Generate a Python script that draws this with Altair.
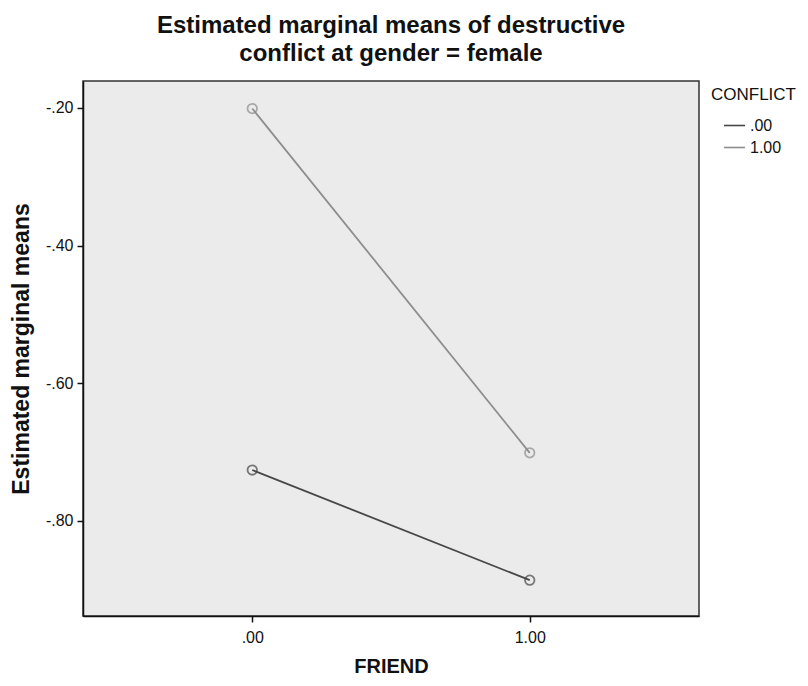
import altair as alt
import pandas as pd

# Data
friend = [".00", "1.00"]
conflict_levels = [".00", "1.00"]
means_conflict0 = [-0.726, -0.886]
means_conflict1 = [-0.201, -0.701]
y_ticks = [-0.2, -0.4, -0.6, -0.8]

rows = []
for f, v in zip(friend, means_conflict0):
    rows.append({"FRIEND": f, "CONFLICT": conflict_levels[0], "mean": v})
for f, v in zip(friend, means_conflict1):
    rows.append({"FRIEND": f, "CONFLICT": conflict_levels[1], "mean": v})
df = pd.DataFrame(rows)

FONT = "Liberation Sans"

color_scale = alt.Scale(domain=conflict_levels, range=["#474747", "#8e8e8e"])

x_enc = alt.X(
    "FRIEND:N",
    sort=friend,
    scale=alt.Scale(type="point", padding=0.61),
    axis=alt.Axis(title="FRIEND", labelAngle=0, labelPadding=7, titlePadding=11),
)
y_enc = alt.Y(
    "mean:Q",
    scale=alt.Scale(domain=[-0.938, -0.161], nice=False, zero=False),
    axis=alt.Axis(
        title="Estimated marginal means",
        values=y_ticks,
        labelExpr="replace(replace(format(datum.value, '.2f'), '0.', '.'), '\u2212', '-')",
        labelPadding=4,
        titlePadding=12,
    ),
)

lines = alt.Chart(df).mark_line(strokeWidth=1.8).encode(
    x=x_enc,
    y=y_enc,
    color=alt.Color(
        "CONFLICT:N",
        scale=color_scale,
        legend=alt.Legend(
            title="CONFLICT",
            orient="none",
            legendX=628,
            legendY=6,
            symbolType="stroke",
            symbolSize=440,
            symbolStrokeWidth=1.6,
            symbolOffset=12,
            titleFont=FONT,
            titleFontSize=17,
            titleFontWeight="normal",
            titleColor="#111",
            titlePadding=10,
            labelFont=FONT,
            labelFontSize=16,
            labelColor="#111",
            rowPadding=2,
            labelOffset=4,
        ),
    ),
)

points = alt.Chart(df).mark_point(
    shape="circle", filled=False, size=90, strokeWidth=1.8
).encode(
    x=x_enc,
    y=y_enc,
    color=alt.Color("CONFLICT:N", scale=color_scale, legend=None),
)

chart = (
    alt.layer(lines, points)
    .properties(
        width=616,
        height=535,
        autosize=alt.AutoSizeParams(type="none"),
        padding={"left": 75, "top": 73, "right": 101, "bottom": 62},
        title=alt.Title(
            ["Estimated marginal means of destructive", "conflict at gender = female"],
            font=FONT,
            fontSize=24,
            fontWeight="bold",
            color="#111",
            anchor="middle",
            frame="group",
            lineHeight=28,
            offset=15,
        ),
    )
    .configure_view(fill="#ebebeb", stroke="#333333", strokeWidth=1.5)
    .configure_axis(
        grid=False,
        domainColor="#111111",
        domainWidth=1.5,
        tickColor="#111111",
        tickWidth=1.5,
        tickSize=6,
        labelFont=FONT,
        labelFontSize=16,
        labelColor="#111",
        titleFont=FONT,
        titleFontSize=20,
        titleFontWeight="bold",
        titleColor="#111",
    )
    .configure_axisY(titleFontSize=23)
)

chart.save("out.html", embed_options={"renderer": "svg", "actions": False})
